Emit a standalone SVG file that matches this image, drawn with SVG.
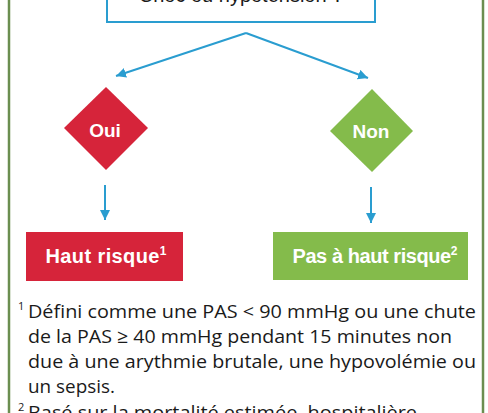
<svg xmlns="http://www.w3.org/2000/svg" width="488" height="413" viewBox="0 0 488 413">
<defs>
<style>
.frame{fill:none;stroke:#6b8e50;stroke-width:2.5}
.q{fill:#fff;stroke:#2a9dd0;stroke-width:2}
.conn{fill:none;stroke:#2a9dd0;stroke-width:2}
.red{fill:#d6243a}
.green{fill:#84bb4b}
.wt{font-family:"Liberation Sans",Arial,sans-serif;font-weight:bold;fill:#fff;text-anchor:middle}
.qt{font-family:"Liberation Sans",Arial,sans-serif;font-size:20px;fill:#1a1a1a;text-anchor:middle}
.fn{font-family:"Open Sans","Liberation Sans",sans-serif;font-size:19px;fill:#1a1a1a}
.fs{font-family:"Open Sans","Liberation Sans",sans-serif;font-size:11px;fill:#1a1a1a}
.sup{font-size:12px}
</style>
<marker id="ah" markerUnits="userSpaceOnUse" markerWidth="12" markerHeight="12" refX="10" refY="5" orient="auto">
<path d="M0,0 L10,5 L0,10 Z" fill="#2a9dd0"/>
</marker>
</defs>
<rect x="0" y="0" width="488" height="413" fill="#fff"/>
<rect class="frame" x="9" y="-10" width="474" height="440"/>
<g id="question">
<rect class="q" x="107" y="-20" width="268" height="42"/>
<text class="qt" x="241" y="2">Choc ou hypotension ?</text>
</g>
<g id="connectors">
<path class="conn" d="M246,33 L116,76" marker-end="url(#ah)"/>
<path class="conn" d="M246,33 L368,78" marker-end="url(#ah)"/>
<path class="conn" d="M105,185 L105,220" marker-end="url(#ah)"/>
<path class="conn" d="M371,187 L371,223" marker-end="url(#ah)"/>
</g>
<g id="oui">
<path class="red" d="M106,87 L148,128 L106,170 L64,128 Z"/>
<text class="wt" x="105" y="137" font-size="19">Oui</text>
</g>
<g id="non">
<path class="green" d="M372,89 L413,131 L372,172 L330,131 Z"/>
<text class="wt" x="371" y="138" font-size="19">Non</text>
</g>
<g id="haut">
<rect class="red" x="26" y="232" width="157" height="49"/>
<text class="wt" x="106" y="263" font-size="20" textLength="121">Haut risque<tspan class="sup" dy="-8">1</tspan></text>
</g>
<g id="pashaut">
<rect class="green" x="273" y="232" width="195" height="48"/>
<text class="wt" x="375" y="263" font-size="20" textLength="165">Pas à haut risque<tspan class="sup" dy="-8">2</tspan></text>
</g>
<g id="footnotes">
<text class="fs" x="18" y="310">1</text>
<text class="fn" x="28" y="318" textLength="448" lengthAdjust="spacingAndGlyphs">Défini comme une PAS &lt; 90 mmHg ou une chute</text>
<text class="fn" x="28" y="343" textLength="424" lengthAdjust="spacingAndGlyphs">de la PAS ≥ 40 mmHg pendant 15 minutes non</text>
<text class="fn" x="28" y="368" textLength="448" lengthAdjust="spacingAndGlyphs">due à une arythmie brutale, une hypovolémie ou</text>
<text class="fn" x="28" y="393" textLength="87" lengthAdjust="spacingAndGlyphs">un sepsis.</text>
<text class="fs" x="18" y="411">2</text>
<text class="fn" x="28" y="419" textLength="389" lengthAdjust="spacingAndGlyphs">Basé sur la mortalité estimée, hospitalière</text>
</g>
</svg>
